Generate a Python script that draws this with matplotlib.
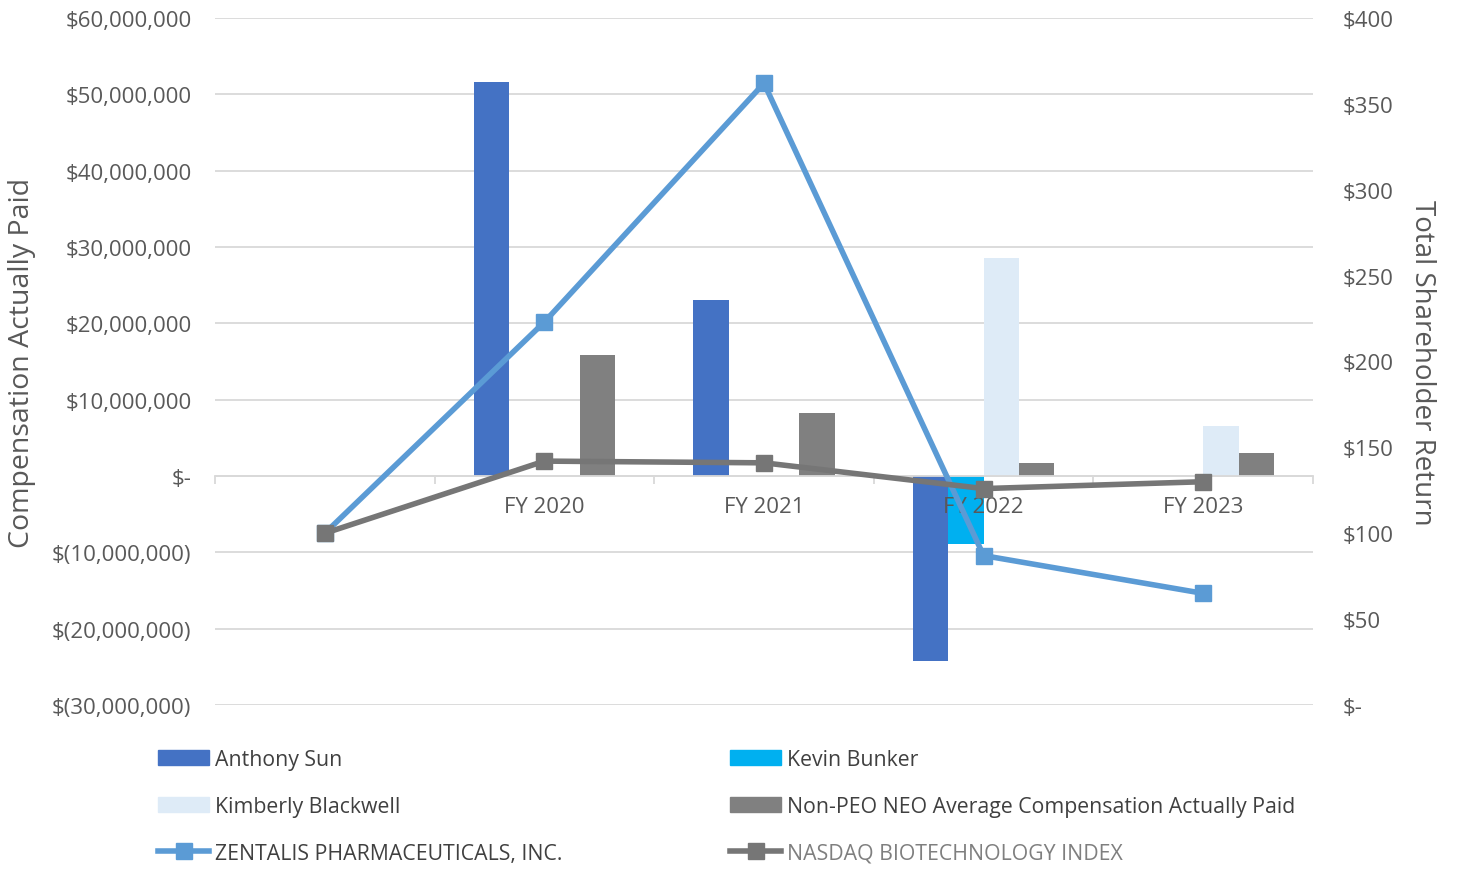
import matplotlib
matplotlib.use("Agg")
import matplotlib.pyplot as plt
import matplotlib.transforms as mtransforms
from matplotlib.patches import Patch
from matplotlib.lines import Line2D
import numpy as np

plt.rcParams['font.family'] = ['Open Sans', 'DejaVu Sans']

categories = ["", "FY 2020", "FY 2021", "FY 2022", "FY 2023"]
anthony_sun = [None, 51.6e6, 23.1e6, -24.3e6, None]
kevin_bunker = [None, None, None, -8.9e6, None]
kimberly_blackwell = [None, None, None, 28.5e6, 6.6e6]
non_peo = [None, 15.9e6, 8.2e6, 1.7e6, 3.0e6]
zentalis_tsr = [100, 223, 362, 87, 65]
nasdaq_tsr = [100, 142, 141, 126, 130]

left_ticks = [-30e6, -20e6, -10e6, 0, 10e6, 20e6, 30e6, 40e6, 50e6, 60e6]
right_ticks = [0, 50, 100, 150, 200, 250, 300, 350, 400]

def fmt_left(v):
    if v == 0:
        return "$-"
    if v < 0:
        return "$({:,.0f})".format(-v)
    return "${:,.0f}".format(v)

def fmt_right(v):
    return "$-" if v == 0 else "${:.0f}".format(v)

W, H = 1458, 870
fig = plt.figure(figsize=(W / 100, H / 100), dpi=100)
ax = fig.add_axes([215 / W, 1 - 706 / H, (1313 - 215) / W, (706 - 19) / H])
ax2 = ax.twinx()

tick_color = '#595959'
x = np.arange(len(categories))
bw = 0.161
series = [
    (anthony_sun, '#4472C4', 'Anthony Sun'),
    (kevin_bunker, '#00B0F0', 'Kevin Bunker'),
    (kimberly_blackwell, '#DEEBF7', 'Kimberly Blackwell'),
    (non_peo, '#808080', 'Non-PEO NEO Average Compensation Actually Paid'),
]
offsets = [-1.5, -0.5, 0.5, 1.5]
for (vals, col, lab), off in zip(series, offsets):
    xs = [xi + off * bw for xi, v in zip(x, vals) if v is not None]
    vs = [v for v in vals if v is not None]
    ax.bar(xs, vs, width=bw, color=col, zorder=2, linewidth=0)

ax.set_xlim(-0.5, len(categories) - 0.5)
ax.set_ylim(-30e6, 60e6)
ax.set_yticks(left_ticks)
ax.set_yticklabels([fmt_left(v) for v in left_ticks])
ax.tick_params(axis='y', length=0, pad=17, labelsize=16, labelcolor=tick_color)
ax.grid(axis='y', color='#d9d9d9', linewidth=1.3, zorder=0)
ax.set_axisbelow(True)
for s in ['top', 'right', 'left']:
    ax.spines[s].set_visible(False)
ax.spines['bottom'].set_position(('data', 0))
ax.spines['bottom'].set_color('#d9d9d9')
ax.spines['bottom'].set_linewidth(1.3)
ax.set_xticks(np.arange(-0.5, len(categories), 1.0))
ax.set_xticklabels([])
ax.tick_params(axis='x', length=6, color='#d9d9d9', width=1.3)
label_tr = ax.transData + mtransforms.ScaledTranslation(0, -31 / 100, fig.dpi_scale_trans)
for xi, c in zip(x, categories):
    ax.text(xi, 0, c, transform=label_tr, ha='center', va='center',
            fontsize=16, color=tick_color, zorder=5)

ax2.plot(x, zentalis_tsr, color='#5B9BD5', linewidth=4, marker='s', markersize=11, zorder=3)
ax2.plot(x, nasdaq_tsr, color='#767676', linewidth=4, marker='s', markersize=11, zorder=3)
ax2.set_ylim(0, 400)
ax2.set_yticks(right_ticks)
ax2.set_yticklabels([fmt_right(v) for v in right_ticks])
ax2.tick_params(axis='y', length=0, pad=21, labelsize=16, labelcolor=tick_color)
for s in ['top', 'right', 'left', 'bottom']:
    ax2.spines[s].set_visible(False)

fig.text(22 / W, 1 - 363 / H, "Compensation Actually Paid", rotation=90, ha='center', va='center',
         fontsize=20.5, color=tick_color)
fig.text(1422 / W, 1 - 363 / H, "Total Shareholder Return", rotation=270, ha='center', va='center',
         fontsize=20, color=tick_color)

h_a = Patch(color='#4472C4')
h_kb = Patch(color='#00B0F0')
h_kim = Patch(color='#DEEBF7')
h_np = Patch(color='#808080')
h_z = Line2D([0], [0], color='#5B9BD5', linewidth=4, marker='s', markersize=11)
h_n = Line2D([0], [0], color='#767676', linewidth=4, marker='s', markersize=11)

common = dict(frameon=False, fontsize=15.3, handlelength=2.4, handleheight=0.7,
              handletextpad=0.3, labelspacing=1.22, borderpad=0, borderaxespad=0,
              labelcolor='#404040')
leg1 = fig.legend([h_a, h_kim, h_z],
                  ["Anthony Sun", "Kimberly Blackwell", "ZENTALIS PHARMACEUTICALS, INC."],
                  loc='upper left', bbox_to_anchor=(158 / W, 1 - 750 / H), **common)
leg2 = fig.legend([h_kb, h_np, h_n],
                  ["Kevin Bunker", "Non-PEO NEO Average Compensation Actually Paid", "NASDAQ BIOTECHNOLOGY INDEX"],
                  loc='upper left', bbox_to_anchor=(730 / W, 1 - 750 / H), **common)
leg2.get_texts()[2].set_color('#7f7f7f')

fig.savefig("out.png", dpi=100, facecolor='white')
